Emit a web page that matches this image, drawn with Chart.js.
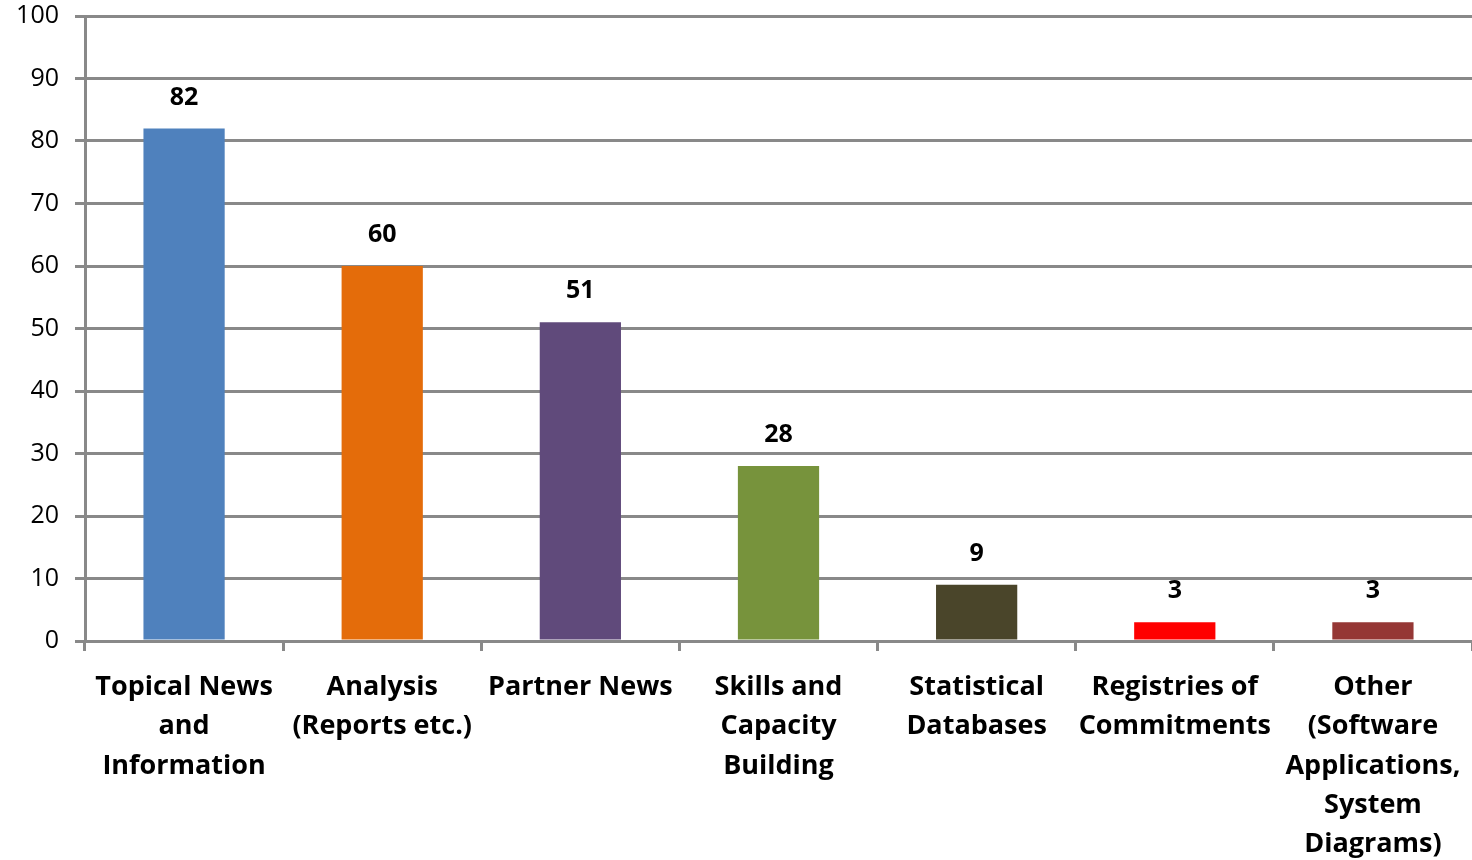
<!DOCTYPE html>
<html>
<head>
<meta charset="utf-8">
<script src="https://cdn.jsdelivr.net/npm/chart.js@4/dist/chart.umd.min.js"></script>
<style>
  html, body { margin: 0; padding: 0; background: #fff; }
  #wrap { width: 1472px; height: 860px; }
</style>
</head>
<body>
<div id="wrap"><canvas id="bar_chart"></canvas></div>
<script>
// chart data
const categories = [
	['Topical News', 'and', 'Information'],
	['Analysis', '(Reports etc.)'],
	['Partner News'],
	['Skills and', 'Capacity', 'Building'],
	['Statistical', 'Databases'],
	['Registries of', 'Commitments'],
	['Other', '(Software', 'Applications,', 'System', 'Diagrams)']
];
const counts = [82, 60, 51, 28, 9, 3, 3];
const bar_colors = ['#4F81BD', '#E46C0A', '#604A7B', '#77933C', '#4A452A', '#FF0000', '#953735'];
const y_min = 0;
const y_max = 100;
const y_step = 10;

const grid_color = '#898989';
const font_family = '"Open Sans", "DejaVu Sans", sans-serif';

// value labels above the bars
const bar_values = {
	id: 'bar_values',
	afterDatasetsDraw(chart) {
		const ctx = chart.ctx;
		const meta = chart.getDatasetMeta(0);
		ctx.save();
		ctx.font = 'bold 25px ' + font_family;
		ctx.fillStyle = '#000';
		ctx.textAlign = 'center';
		ctx.textBaseline = 'middle';
		meta.data.forEach(function (bar, i) {
			ctx.fillText(String(counts[i]), bar.x, bar.y - 31);
		});
		ctx.restore();
	}
};

const bar_chart = new Chart(
		document.getElementById('bar_chart').getContext('2d'),
		{
			type: 'bar',
			data: {
				labels: categories,
				datasets: [{
						data: counts,
						backgroundColor: bar_colors,
						borderWidth: 0,
						categoryPercentage: 1,
						barPercentage: 0.41
					}]
			},
			options: {
				responsive: true,
				maintainAspectRatio: false,
				animation: false,
				layout: {
					padding: { top: 16, right: 0, left: 0, bottom: 0 }
				},
				plugins: {
					legend: { display: false },
					tooltip: { enabled: false },
					title: { display: false }
				},
				scales: {
					x: {
						offset: true,
						grid: {
							offset: true,
							drawOnChartArea: false,
							drawTicks: true,
							tickLength: 10,
							color: grid_color,
							lineWidth: 3
						},
						border: { color: grid_color, width: 3 },
						ticks: {
							color: '#000',
							maxRotation: 0,
							autoSkip: false,
							padding: 17,
							font: { family: font_family, size: 27, weight: 'bold', lineHeight: 1.45 }
						},
						afterFit(scale) {
							scale.height = 219;
							scale.paddingLeft = 0;
							scale.paddingRight = 0;
						}
					},
					y: {
						min: y_min,
						max: y_max,
						grid: {
							color: grid_color,
							lineWidth: 3,
							tickLength: 10
						},
						border: { color: grid_color, width: 3 },
						ticks: {
							stepSize: y_step,
							color: '#000',
							padding: 16,
							font: { family: font_family, size: 25 }
						},
						afterFit(scale) {
							scale.width = 85;
							scale.paddingTop = 0;
							scale.paddingBottom = 0;
						}
					}
				}
			},
			plugins: [bar_values]
		}
);
</script>
</body>
</html>
